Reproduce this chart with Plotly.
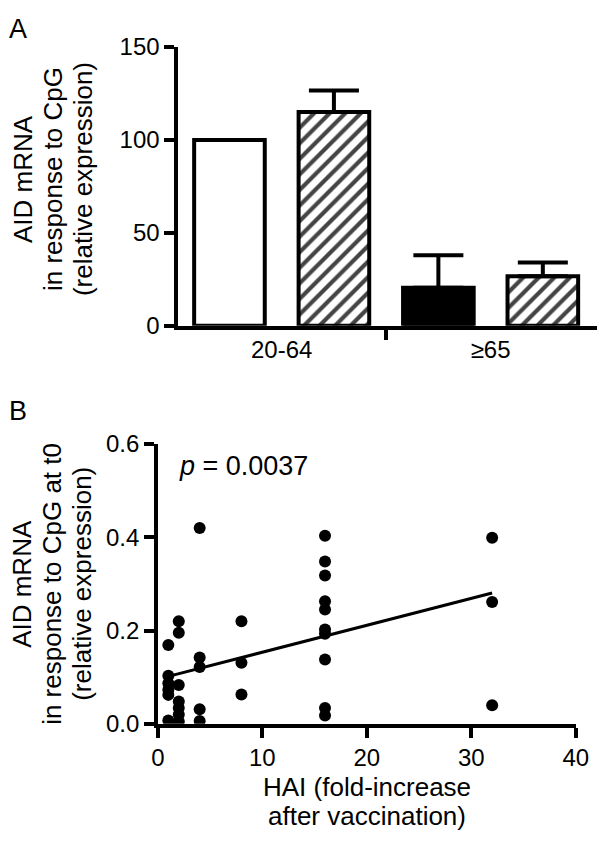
import numpy as np
import plotly.graph_objects as go

W, H = 610, 853

# ---------------- Panel A data ----------------
bar_pos = [0, 1, 2, 3]
bar_values = [100, 115, 20.5, 26.7]
bar_err = [0, 11.5, 17.5, 7.3]
bar_colors = ["white", "white", "black", "white"]
bar_patterns = ["", "/", "", "/"]
group_pos = [0.5, 2.5]
group_labels = ["20-64", "≥65"]
a_yticks = [0, 50, 100, 150]
a_title_lines = ["AID mRNA", "in response to CpG", "(relative expression)"]

# ---------------- Panel B data ----------------
hai_x = ([1] * 6 + [2] * 7 + [4] * 5 + [8] * 3 + [16] * 10 + [32] * 3)
aid_y = [0.169, 0.103, 0.087, 0.073, 0.062, 0.007,
         0.220, 0.195, 0.083, 0.048, 0.034, 0.020, 0.005,
         0.420, 0.142, 0.122, 0.031, 0.006,
         0.220, 0.131, 0.063,
         0.403, 0.348, 0.318, 0.263, 0.245, 0.202, 0.193, 0.138, 0.034, 0.018,
         0.399, 0.261, 0.040]
b_xticks = [0, 10, 20, 30, 40]
b_yticks = [0.0, 0.2, 0.4, 0.6]
b_title_lines = ["AID mRNA", "in response to CpG at t0", "(relative expression)"]
b_xtitle_lines = ["HAI (fold-increase", "after vaccination)"]
p_text = "<i>p</i> = 0.0037"

FONT = "Liberation Sans, Arial, sans-serif"
TICKF = dict(family=FONT, size=24, color="black")
TITLEF = dict(family=FONT, size=26, color="black")


def px_x(p):
    return p / W


def px_y(p):
    return 1 - p / H


fig = go.Figure()

fig.add_trace(go.Bar(
    x=bar_pos, y=bar_values, width=0.676,
    marker=dict(color=bar_colors, line=dict(color="black", width=4),
                pattern=dict(shape=bar_patterns, fgcolor="black",
                             fgopacity=1, size=11, solidity=0.38,
                             fillmode="overlay")),
    error_y=dict(type="data", array=bar_err, arrayminus=[0] * 4,
                 color="black", thickness=4, width=25),
    xaxis="x", yaxis="y", showlegend=False))

coef = np.polyfit(hai_x, aid_y, 1)
fit_x = np.array([min(hai_x), max(hai_x)])
fig.add_trace(go.Scatter(
    x=fit_x, y=np.polyval(coef, fit_x), mode="lines",
    line=dict(color="black", width=3), xaxis="x2", yaxis="y2",
    showlegend=False))
fig.add_trace(go.Scatter(
    x=hai_x, y=aid_y, mode="markers",
    marker=dict(color="black", size=12), xaxis="x2", yaxis="y2",
    showlegend=False))

axis_common = dict(showgrid=False, zeroline=False, showline=True,
                   linecolor="black", linewidth=3.5, tickfont=TICKF,
                   tickcolor="black", tickwidth=3.5)

fig.update_layout(
    width=W, height=H, margin=dict(l=0, r=0, t=0, b=0),
    paper_bgcolor="white", plot_bgcolor="white",
    xaxis=dict(domain=[px_x(177), 1.0], range=[-0.4907, 3.5185],
               tickvals=group_pos, ticktext=group_labels, ticks="",
               minor=dict(tickvals=[1.5], ticks="outside", ticklen=10,
                          tickwidth=3.5, tickcolor="black"),
               anchor="y", **axis_common),
    yaxis=dict(domain=[px_y(322), px_y(34)], range=[0, 150],
               tickvals=a_yticks, ticks="outside", ticklen=10,
               anchor="x", **axis_common),
    xaxis2=dict(domain=[px_x(156), px_x(588)], range=[0, 40],
                tickvals=b_xticks, ticks="outside", ticklen=10,
                anchor="y2", **axis_common),
    yaxis2=dict(domain=[px_y(733), px_y(444)], range=[0, 0.6],
                tickvals=b_yticks, tickformat=".1f", ticks="outside",
                ticklen=10, anchor="x2", **axis_common),
)

ann = []
ann.append(dict(text="A", x=px_x(0), y=px_y(16), xanchor="left",
                yanchor="middle", font=dict(family=FONT, size=27, color="black")))
ann.append(dict(text="B", x=px_x(0), y=px_y(410), xanchor="left",
                yanchor="middle", font=dict(family=FONT, size=27, color="black")))
line_x = [16, 47, 78]
for lx, t in zip(line_x, a_title_lines):
    ann.append(dict(text=t, x=px_x(lx), y=px_y(170), textangle=-90,
                    xanchor="center", yanchor="middle", font=TITLEF))
for lx, t in zip(line_x, b_title_lines):
    ann.append(dict(text=t, x=px_x(lx), y=px_y(588), textangle=-90,
                    xanchor="center", yanchor="middle", font=TITLEF))
for ly, t in zip([798, 828], b_xtitle_lines):
    ann.append(dict(text=t, x=px_x(372), y=px_y(ly), xanchor="center",
                    yanchor="middle", font=TITLEF))
ann.append(dict(text=p_text, x=px_x(176), y=px_y(467), xanchor="left",
                yanchor="middle", font=dict(family=FONT, size=27, color="black")))
for a in ann:
    a.update(xref="paper", yref="paper", showarrow=False)
fig.update_layout(annotations=ann)

fig.write_html("out.html", config={"displayModeBar": False},
               post_script="document.body.style.margin='0';")
